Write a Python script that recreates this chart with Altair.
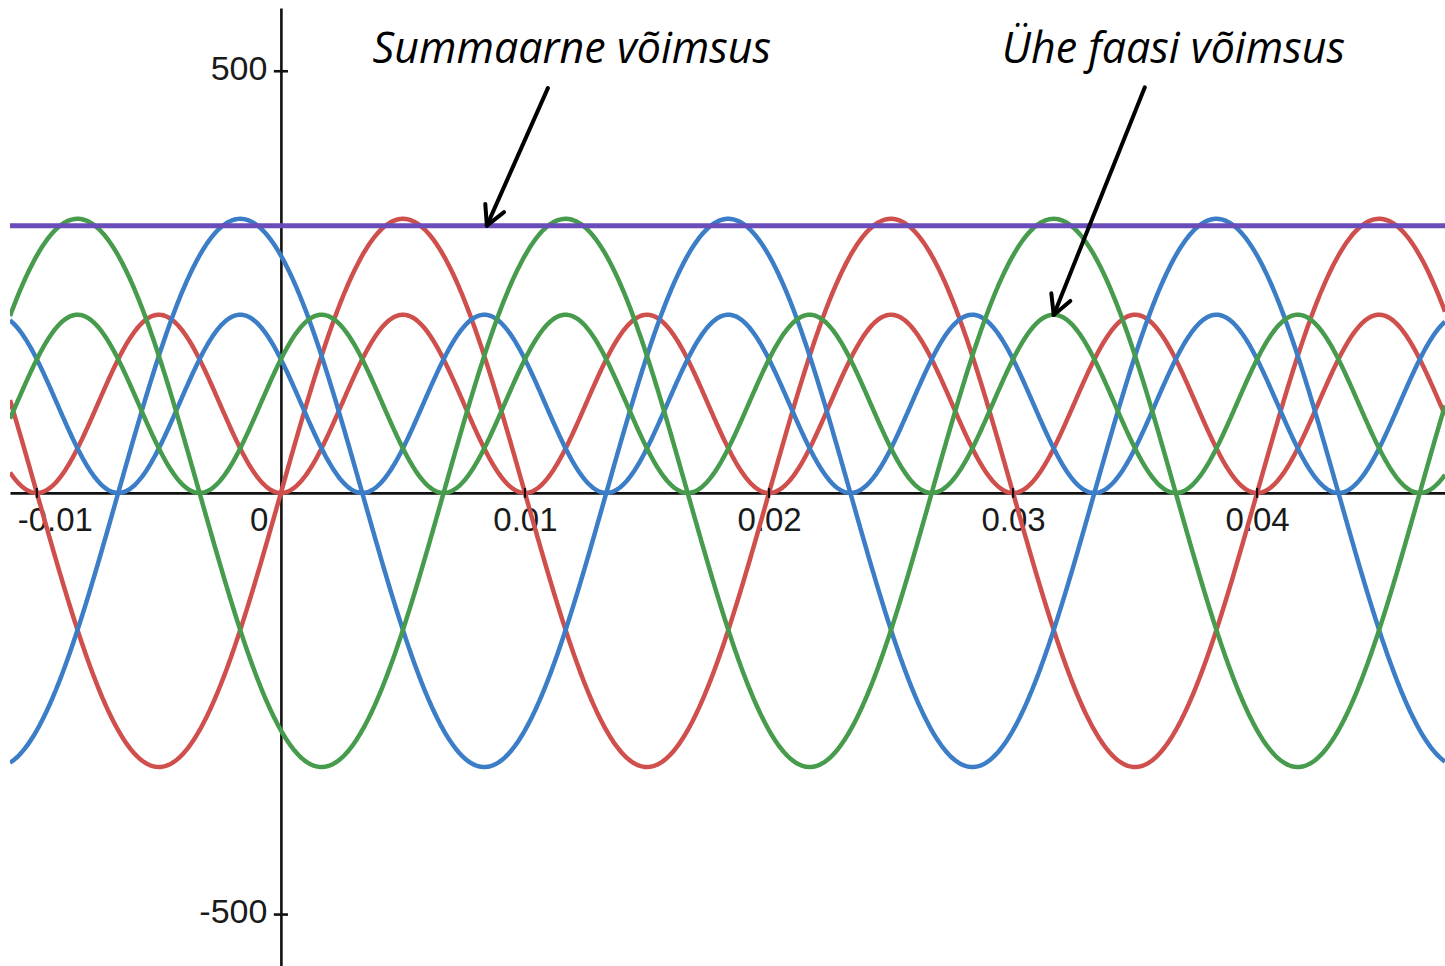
import math

import altair as alt
import numpy as np
import pandas as pd

# --- three-phase supply feeding a resistive load (50 Hz) -------------------
FREQ = 50.0                      # Hz
U_PEAK = 325.0                   # phase voltage amplitude
I_PEAK = 0.65                    # phase current amplitude
PHASES = ["L1", "L2", "L3"]
PHASE_SHIFT_DEG = [0.0, 120.0, -120.0]
PHASE_COLORS = ["#cf4f4c", "#3b7dc6", "#469b4d"]
TOTAL_COLOR = "#6a4db8"

# --- axes -------------------------------------------------------------------
X_DOMAIN = [-0.0111, 0.0477]
Y_DOMAIN = [-561.0, 575.0]
X_TICKS = [-0.01, 0, 0.01, 0.02, 0.03, 0.04]
X_TICK_LABELS = ["-0.01", "0", "0.01", "0.02", "0.03", "0.04"]
Y_TICKS = [-500, 500]
Y_TICK_LABELS = ["-500", "500"]

# --- annotations (data coordinates) -----------------------------------------
ANNOT_TEXT = ["Summaarne võimsus", "Ühe faasi võimsus"]
ANNOT_X = [0.01192, 0.03657]
ANNOT_Y = [510.0, 510.0]
ARROW_FROM_X = [0.01094, 0.03540]
ARROW_FROM_Y = [480.0, 481.0]
ARROW_TO_X = [0.00844, 0.031667]
ARROW_TO_Y = [317.0, 211.0]

W, H = 1435, 958
PAD_L, PAD_T = 10, 8

# --- curves -----------------------------------------------------------------
t = np.linspace(X_DOMAIN[0], X_DOMAIN[1], 1400)
omega = 2 * math.pi * FREQ
frames = []
powers = []
for name, shift in zip(PHASES, PHASE_SHIFT_DEG):
    arg = omega * t + math.radians(shift)
    u = U_PEAK * np.sin(arg)
    i = I_PEAK * np.sin(arg)
    p = u * i
    powers.append(p)
    frames.append(pd.DataFrame({"t": t, "v": u, "phase": name, "curve": name + "_u"}))
    frames.append(pd.DataFrame({"t": t, "v": p, "phase": name, "curve": name + "_p"}))
curves = pd.concat(frames, ignore_index=True)
total = pd.DataFrame({"t": t, "v": np.sum(powers, axis=0)})

xs = alt.Scale(domain=X_DOMAIN, nice=False, zero=False)
ys = alt.Scale(domain=Y_DOMAIN, nice=False, zero=False)

x0_px = W * (0 - X_DOMAIN[0]) / (X_DOMAIN[1] - X_DOMAIN[0])
y0_px = H * (Y_DOMAIN[1] - 0) / (Y_DOMAIN[1] - Y_DOMAIN[0])
px_per_x = W / (X_DOMAIN[1] - X_DOMAIN[0])
px_per_y = H / (Y_DOMAIN[1] - Y_DOMAIN[0])


def label_expr(values, labels):
    vals = "[" + ",".join(repr(v) for v in values) + "]"
    labs = "[" + ",".join("'" + s + "'" for s in labels) + "]"
    return f"{labs}[indexof({vals}, datum.value)]"


x_axis = alt.Axis(
    values=X_TICKS,
    labelExpr=label_expr(X_TICKS, X_TICK_LABELS),
    offset=-(H - y0_px),
    domainColor="#111111",
    domainWidth=2.6,
    ticks=False,
    tickSize=0,
    grid=False,
    title=None,
    labelFont="Liberation Sans",
    labelFontSize=33,
    labelColor="#1a1a1a",
    labelPadding=12,
    labelFlush=False,
    labelOverlap=False,
    labelAlign={"condition": {"test": "datum.value == 0", "value": "right"}, "value": "center"},
    labelOffset={
        "condition": [
            {"test": "datum.value < 0", "value": 18},
            {"test": "datum.value == 0", "value": -13},
        ],
        "value": 0,
    },
)

y_axis = alt.Axis(
    values=Y_TICKS,
    labelExpr=label_expr(Y_TICKS, Y_TICK_LABELS),
    offset=-x0_px,
    domainColor="#111111",
    domainWidth=2.6,
    ticks=False,
    tickSize=0,
    grid=False,
    title=None,
    labelFont="Liberation Sans",
    labelFontSize=34,
    labelColor="#1a1a1a",
    labelPadding=14,
    labelOffset=-2,
    labelOverlap=False,
    labelFlush=False,
)


def X(field):
    return alt.X(field, scale=xs, axis=x_axis)


def Y(field):
    return alt.Y(field, scale=ys, axis=y_axis)


color_scale = alt.Scale(domain=PHASES, range=PHASE_COLORS)

phase_lines = (
    alt.Chart(curves)
    .mark_line(strokeWidth=4.5, clip=True)
    .encode(
        x=X("t:Q"),
        y=Y("v:Q"),
        color=alt.Color("phase:N", scale=color_scale, legend=None),
        detail="curve:N",
        order=alt.Order("t:Q"),
    )
)

total_line = (
    alt.Chart(total)
    .mark_line(strokeWidth=5, color=TOTAL_COLOR, clip=True)
    .encode(x=X("t:Q"), y=Y("v:Q"))
)

# small tick marks crossing the axes
x_tick_df = pd.DataFrame({"t": [v for v in X_TICKS if v != 0], "v": 0.0})
y_tick_df = pd.DataFrame({"t": 0.0, "v": Y_TICKS})
x_tick_marks = (
    alt.Chart(x_tick_df)
    .mark_point(shape="M 0 -1 L 0 1", size=100, strokeWidth=2.2, color="#111111", opacity=1, filled=False)
    .encode(x=X("t:Q"), y=Y("v:Q"))
)
y_tick_marks = (
    alt.Chart(y_tick_df)
    .mark_point(shape="M -1 0 L 1 0", size=200, strokeWidth=2.6, color="#111111", opacity=1, filled=False)
    .encode(x=X("t:Q"), y=Y("v:Q"))
)

# arrows
arrow_df = pd.DataFrame(
    {"x0": ARROW_FROM_X, "y0": ARROW_FROM_Y, "x1": ARROW_TO_X, "y1": ARROW_TO_Y}
)
arrow_df["angle"] = [
    math.degrees(math.atan2((x1 - x0) * px_per_x, (y1 - y0) * px_per_y)) % 360
    for x0, y0, x1, y1 in zip(ARROW_FROM_X, ARROW_FROM_Y, ARROW_TO_X, ARROW_TO_Y)
]
shafts = (
    alt.Chart(arrow_df)
    .mark_rule(strokeWidth=4, color="black", strokeCap="round")
    .encode(x=X("x0:Q"), y=Y("y0:Q"), x2="x1:Q", y2="y1:Q")
)
heads = (
    alt.Chart(arrow_df)
    .mark_point(
        shape="M -0.47 0.88 L 0 0 L 0.47 0.88",
        size=1900,
        strokeWidth=4,
        color="black",
        filled=False,
        opacity=1,
        strokeCap="round",
        strokeJoin="round",
    )
    .encode(x=X("x1:Q"), y=Y("y1:Q"), angle=alt.Angle("angle:Q", scale=None))
)

annot_df = pd.DataFrame({"x": ANNOT_X, "y": ANNOT_Y, "text": ANNOT_TEXT})
annotations = (
    alt.Chart(annot_df)
    .mark_text(
        font="Open Sans",
        fontStyle="italic",
        fontSize=43,
        align="center",
        baseline="alphabetic",
        color="black",
    )
    .encode(x=X("x:Q"), y=Y("y:Q"), text="text:N")
)

chart = (
    alt.layer(phase_lines, total_line, x_tick_marks, y_tick_marks, shafts, heads, annotations)
    .properties(
        width=W,
        height=H,
        padding={"left": PAD_L, "top": PAD_T, "right": 0, "bottom": 0},
        autosize="none",
        background="white",
    )
    .configure_view(stroke=None)
)

chart.save("out.html", embed_options={"renderer": "svg", "actions": False})
